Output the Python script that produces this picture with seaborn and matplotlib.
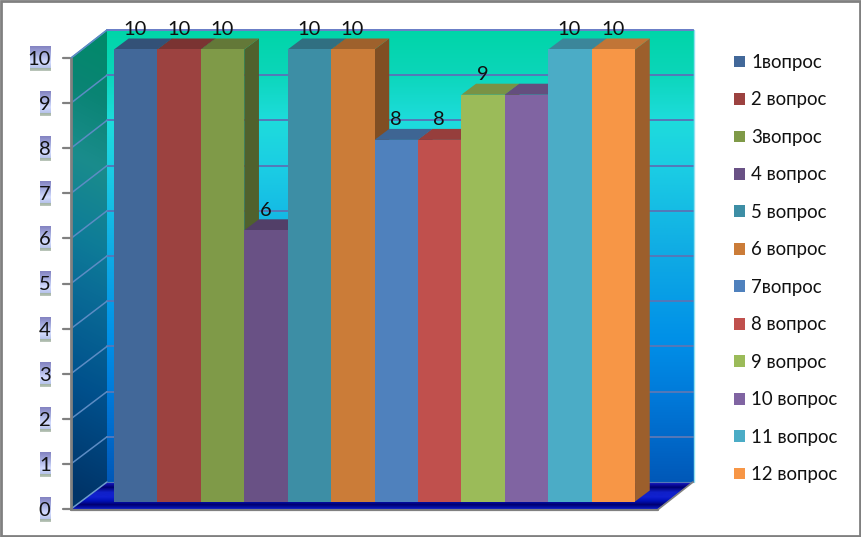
import numpy as np
import pandas as pd
import seaborn as sns
import matplotlib.pyplot as plt
from matplotlib.colors import to_rgb
from matplotlib.patches import Polygon, Rectangle
from matplotlib.transforms import Affine2D

questions = ['1вопрос', '2 вопрос', '3вопрос', '4 вопрос', '5 вопрос', '6 вопрос',
             '7вопрос', '8 вопрос', '9 вопрос', '10 вопрос', '11 вопрос', '12 вопрос']
scores = [10, 10, 10, 6, 10, 10, 8, 8, 9, 9, 10, 10]
score_labels = ['10', '10', '10', '6', '10', '10', '8', '8', '9', '', '10', '10']
axis_ticks = [0, 1, 2, 3, 4, 5, 6, 7, 8, 9, 10]
bar_colors = ['#426899', '#9C4240', '#7F9A48', '#695185', '#3D8EA5', '#CB7C38',
              '#4F81BD', '#C0504D', '#9BBB59', '#8064A2', '#4BACC6', '#F79646']

W, H = 861, 537
BAR_W = 43.42      # px per category
UNIT = 45.2        # px per score point
BAR_LEFT = 114
BAR_BASE = 501.5
DEPTH_X = 14.7 / BAR_W
DEPTH_Y = 11 / UNIT


def gradient(stops, rows):
    """Builds an rgb column from (position, colour) stops"""
    pos = [s[0] for s in stops]
    rgb = np.array([to_rgb(s[1]) for s in stops])
    return np.stack([np.interp(rows, pos, rgb[:, c]) for c in range(3)], axis=-1)


def painted(ax, pix, arr, box, clip=None, zorder=1):
    im = ax.imshow(arr, extent=(box[0], box[1], box[3], box[2]), aspect='auto',
                   transform=pix, zorder=zorder, interpolation='bilinear')
    if clip is not None:
        im.set_clip_path(Polygon(clip, transform=pix))
    return im


sns.set_theme(style='white')
plt.rcParams['font.family'] = ['Lato', 'Open Sans', 'DejaVu Sans']

fig, ax = plt.subplots(figsize=(W / 100, H / 100), dpi=100)
ax.set_position([0, 0, 1, 1])
pix = Affine2D().scale(1, -1).translate(0, H)

# Back wall
rows = np.arange(30, 483)
back = gradient([(30, '#00D5A8'), (70, '#0AD6B8'), (120, '#1EDCDC'), (170, '#1BCCE4'),
                 (250, '#10ACE4'), (340, '#0090E8'), (400, '#0078D8'), (482, '#0058B8')], rows)
painted(ax, pix, back[:, None, :], (107, 694, 30, 482))

# Side wall, the shading runs a little diagonally
rows = np.arange(30, 510)
side_stops = [(30, '#008A68'), (100, '#0A8474'), (170, '#1A8C8C'), (250, '#0E7C98'),
              (300, '#0A6C96'), (400, '#00508C'), (509, '#003468')]
side = np.stack([gradient(side_stops, rows + 0.5 * (107 - col)) for col in np.arange(71, 108)], axis=1)
painted(ax, pix, side, (71, 107, 30, 509), clip=[(71, 58), (107, 30), (107, 482), (71, 509)])

# Floor stripes
rows = np.arange(482, 510)
floor = gradient([(482, '#1818C8'), (487, '#000070'), (492, '#1020C8'), (497, '#1020D0'),
                  (501, '#0010B8'), (505, '#000070'), (509, '#0818C0')], rows)
painted(ax, pix, floor[:, None, :], (71, 693, 482, 509),
        clip=[(71, 509), (658, 509), (693, 482), (107, 482)])

# Grid on both walls
for v in axis_ticks[1:]:
    ax.plot([107, 693], [482 - v * 45.2] * 2, color='#5578B8', lw=1.4, transform=pix, zorder=2)
    ax.plot([71, 107], [509 - v * 45.1, 482 - v * 45.2], color='#5C8CC4', lw=1.1, transform=pix, zorder=2)
ax.plot([71, 107], [509, 482], color='#6C9CCC', lw=1.1, transform=pix, zorder=2)
ax.plot([107, 693], [482, 482], color='#5578B8', lw=0.8, transform=pix, zorder=2)
ax.plot([693.5, 693.5], [30, 482], color='#90E0F0', lw=1, transform=pix, zorder=2)

# Bars
df = pd.DataFrame({'question': questions, 'score': scores})
sns.barplot(data=df, x='question', y='score', hue='question', palette=bar_colors, order=questions,
            hue_order=questions, width=1, dodge=False, saturation=1, linewidth=0, legend=True, ax=ax)
for bar in ax.patches:
    bar.set_zorder(40)
    bar.set_antialiased(False)

# Top and right faces of the bars
for i, v in enumerate(scores):
    r, g, b = to_rgb(bar_colors[i])
    left, right = i - 0.5, i + 0.5
    ax.add_patch(Polygon([(right, 0), (right + DEPTH_X, DEPTH_Y), (right + DEPTH_X, v + DEPTH_Y), (right, v)],
                         color=(r * 0.63, g * 0.63, b * 0.63), lw=0, zorder=10 + i))
    ax.add_patch(Polygon([(left, v), (left + DEPTH_X, v + DEPTH_Y), (right + DEPTH_X, v + DEPTH_Y), (right, v)],
                         color=(r * 0.78, g * 0.78, b * 0.78), lw=0, zorder=10 + i))
    if score_labels[i]:
        ax.annotate(score_labels[i], (i, v), xytext=(-0.4, 14.4), textcoords='offset points',
                    ha='center', va='center', fontsize=14.5, color='#111111', zorder=50)

# Value axis: line, ticks and labels with the shaded plate behind them
ax.plot([70.5, 70.5], [57, 510], color='#808080', lw=2, transform=pix, zorder=30, solid_capstyle='butt')
ax.plot([71, 658], [509.5, 509.5], color='#808080', lw=1.6, transform=pix, zorder=30)
ax.plot([658, 693], [509.5, 482], color='#808080', lw=1.2, transform=pix, zorder=30)
ax.plot([107, 71], [30, 58], color='#5C8CC4', lw=1, transform=pix, zorder=30)
ax.plot([107, 693], [30, 30], color='#6C80C8', lw=1.4, transform=pix, zorder=3)
plate = gradient([(0, '#8484C2'), (0.35, '#AAB2E2'), (0.65, '#D4DCFF'), (0.88, '#B8C4EA'),
                  (0.92, '#A4B4A4'), (1, '#B8C4B8')], np.linspace(0, 1, 25))
for v in axis_ticks:
    y = 509 - v * 45.1
    ax.plot([63, 70], [y, y], color='#808080', lw=1.6, transform=pix, zorder=30)
    left_edge = 30 if v == 10 else 40
    painted(ax, pix, plate[:, None, :], (left_edge, 51, y - 12, y + 13), zorder=30)
    ax.text(50.5, y + 1.5, str(v), transform=pix, ha='right', va='center', fontsize=14.5,
            color='#111111', zorder=31)

# Frame round the picture
ax.add_patch(Rectangle((1, 1), 859, 535, fill=False, edgecolor='#808080', lw=2, transform=pix, zorder=60))

ax.set_xlim(-BAR_LEFT / BAR_W - 0.5, (W - BAR_LEFT) / BAR_W - 0.5)
ax.set_ylim((BAR_BASE - H) / UNIT, BAR_BASE / UNIT)
ax.set_axis_off()

sns.move_legend(ax, 'upper left', bbox_to_anchor=(734 / W, 1 - 54 / H), borderaxespad=0, borderpad=0,
                frameon=False, title=None, fontsize=13.4, labelspacing=1.10, handlelength=0.59,
                handleheight=0.59, handletextpad=0.32)
for text in ax.get_legend().get_texts():
    text.set_color('#111111')

fig.savefig('out.png', dpi=100)
